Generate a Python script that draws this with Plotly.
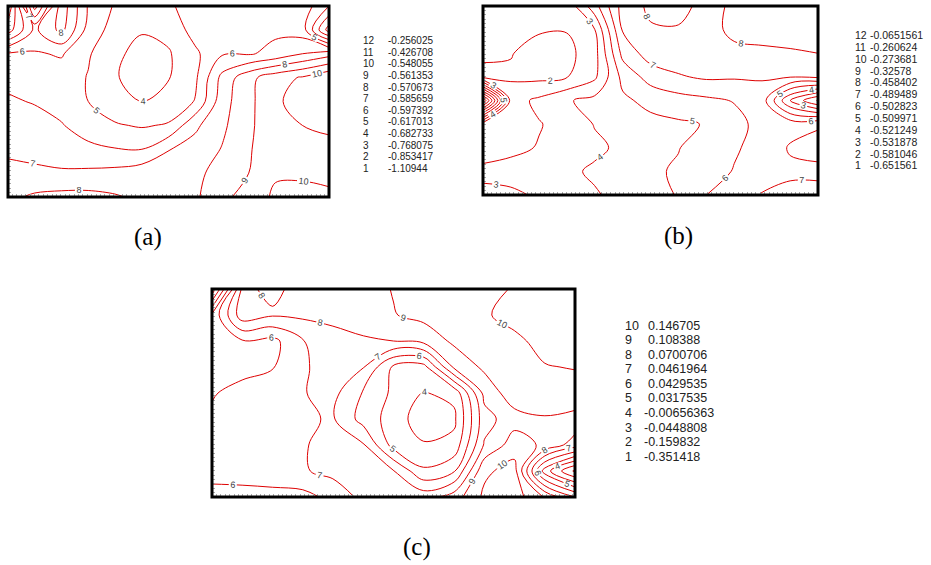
import plotly.graph_objects as go

W, H = 931, 565

# ---- contour legend tables (level index -> value) ----
levels_a = [-1.10944, -0.853417, -0.768075, -0.682733, -0.617013, -0.597392,
            -0.585659, -0.570673, -0.561353, -0.548055, -0.426708, -0.256025]
levels_b = [-0.651561, -0.581046, -0.531878, -0.521249, -0.509971, -0.502823,
            -0.489489, -0.458402, -0.32578, -0.273681, -0.260624, -0.0651561]
levels_c = [-0.351418, -0.159832, -0.0448808, -0.00656363, 0.0317535,
            0.0429535, 0.0461964, 0.0700706, 0.108388, 0.146705]

# ---- grid positions (fraction of panel width / height) ----
gx = [0, 0.083, 0.167, 0.25, 0.333, 0.417, 0.5, 0.583, 0.667, 0.75, 0.833, 0.917, 1]
gy = [0, 0.125, 0.25, 0.375, 0.5, 0.625, 0.75, 0.875, 1]

# ---- fields, expressed in contour-level index units (rows bottom -> top) ----
z_a = [
    [7.8, 8.15, 8.3, 8.3, 8.1, 7.8, 7.6, 7.85, 8.7, 9.5, 10.15, 10.3, 10.3],
    [7.3, 7.25, 7.15, 7.2, 7.3, 7.6, 7.7, 7.75, 8.4, 9.0, 9.9, 9.85, 9.6],
    [6.8, 6.6, 6.4, 6.2, 6.05, 6.0, 6.95, 7.4, 8.05, 8.9, 9.7, 9.9, 9.7],
    [6.4, 6.3, 6.05, 5.6, 5.1, 4.9, 5.1, 6.8, 7.8, 8.8, 9.7, 10.0, 10.2],
    [6.1, 5.95, 5.7, 5.0, 4.4, 4.0, 4.3, 5.05, 7.6, 8.75, 9.8, 10.5, 10.8],
    [5.8, 5.6, 5.5, 4.95, 4.1, 3.5, 3.95, 4.8, 7.3, 8.7, 9.6, 10.1, 10.9],
    [5.9, 5.9, 6.1, 5.1, 4.25, 3.6, 3.9, 4.8, 5.9, 5.9, 6.3, 7.0, 7.6],
    [9.5, 6.8, 8.3, 5.6, 4.6, 4.1, 4.3, 5.4, 5.6, 5.5, 5.8, 5.5, 1.5],
    [11.0, 3.5, 8.6, 5.9, 4.9, 4.4, 4.9, 5.3, 5.6, 5.8, 5.9, 5.6, 4.0],
]
z_b = [
    [2.8, 2.85, 3.1, 3.5, 3.9, 4.3, 4.7, 5.05, 6.0, 6.6, 7.05, 7.3, 7.3],
    [3.2, 3.3, 3.5, 3.8, 4.15, 4.5, 4.8, 5.15, 5.6, 6.05, 6.6, 6.8, 6.8],
    [2.6, 2.8, 3.05, 3.4, 3.8, 4.2, 4.6, 4.95, 5.6, 5.9, 6.3, 7.1, 7.3],
    [2.4, 2.7, 2.95, 3.3, 4.05, 4.4, 4.7, 4.85, 5.05, 5.7, 6.3, 6.6, 6.9],
    [12.0, 2.6, 3.2, 3.9, 4.3, 4.8, 5.3, 5.6, 5.8, 6.05, 6.5, 3.0, 0.9],
    [1.7, 1.85, 1.75, 1.95, 2.8, 5.3, 6.4, 6.9, 7.15, 7.1, 7.1, 7.05, 7.2],
    [2.2, 2.05, 1.6, 1.7, 2.6, 6.3, 7.5, 7.6, 7.6, 7.8, 7.85, 7.9, 8.0],
    [2.5, 2.3, 2.1, 2.05, 2.95, 7.1, 7.9, 7.95, 7.7, 8.2, 8.3, 8.4, 8.5],
    [2.6, 2.5, 2.4, 2.3, 4.6, 7.4, 8.2, 8.2, 7.8, 8.1, 8.3, 8.4, 8.5],
]
z_c = [
    [5.8, 5.75, 5.7, 5.65, 6.3, 7.3, 7.5, 7.6, 8.5, 10.2, 10.5, 8.9, 7.0],
    [6.2, 6.3, 6.5, 6.9, 7.3, 7.4, 7.05, 5.15, 5.9, 9.8, 10.4, 4.5, 1.8],
    [6.4, 6.5, 6.7, 6.95, 7.2, 7.1, 4.6, 4.1, 4.3, 8.1, 9.5, 8.8, 7.5],
    [6.1, 6.2, 6.5, 6.85, 7.1, 5.6, 4.55, 3.4, 3.8, 7.6, 8.6, 8.9, 8.7],
    [5.95, 6.2, 6.4, 6.95, 7.3, 5.9, 4.8, 3.95, 4.25, 8.3, 9.6, 9.7, 9.6],
    [5.7, 5.8, 5.95, 6.85, 7.5, 7.05, 4.8, 4.6, 8.2, 9.2, 9.6, 9.95, 10.05],
    [5.8, 5.9, 5.7, 6.95, 7.6, 7.9, 8.0, 8.3, 9.2, 9.5, 9.8, 10.3, 10.4],
    [5.2, 8.6, 8.1, 8.2, 8.3, 8.4, 8.95, 9.3, 9.6, 9.9, 10.3, 10.5, 10.5],
    [1.2, 8.2, 7.8, 8.3, 8.4, 8.6, 9.05, 9.4, 9.6, 9.8, 10.05, 10.4, 10.5],
]

# ---- panel boxes in pixels (left, right, top, bottom) ----
boxes = [(8, 329, 6, 197), (483, 818, 6, 195), (212, 575, 289, 497)]

RED = "#dd0000"
fig = go.Figure()

panels = [(z_a, levels_a), (z_b, levels_b), (z_c, levels_c)]
for i, (z, lev) in enumerate(panels):
    n = i + 1
    xa = "x" if n == 1 else f"x{n}"
    ya = "y" if n == 1 else f"y{n}"
    fig.add_trace(go.Contour(
        x=gx, y=gy, z=z, xaxis=xa, yaxis=ya,
        contours=dict(coloring="none", start=1, end=len(lev), size=1,
                      showlabels=True,
                      labelfont=dict(size=9, color="#444", family="Liberation Sans")),
        line=dict(color=RED, width=1, smoothing=1.0),
        showscale=False, hoverinfo="skip"))

layout = dict(width=W, height=H, margin=dict(l=0, r=0, t=0, b=0),
              paper_bgcolor="white", plot_bgcolor="white", showlegend=False)
shapes = []
for i, (x0, x1, y0, y1) in enumerate(boxes):
    n = i + 1
    kx = "xaxis" if n == 1 else f"xaxis{n}"
    ky = "yaxis" if n == 1 else f"yaxis{n}"
    yan = "y" if n == 1 else f"y{n}"
    xan = "x" if n == 1 else f"x{n}"
    layout[kx] = dict(domain=[x0 / W, x1 / W], range=[0, 1], showgrid=False,
                      zeroline=False, showticklabels=False, ticks="inside",
                      ticklen=3, tickcolor="#aaa", dtick=4.4 / (x1 - x0),
                      anchor=yan, fixedrange=True)
    layout[ky] = dict(domain=[1 - y1 / H, 1 - y0 / H], range=[0, 1], showgrid=False,
                      zeroline=False, showticklabels=False, ticks="inside",
                      ticklen=3, tickcolor="#aaa", dtick=4.4 / (y1 - y0),
                      anchor=xan, fixedrange=True)
    shapes.append(dict(type="rect", xref=f"{xan} domain", yref=f"{yan} domain",
                       x0=0, x1=1, y0=0, y1=1, line=dict(color="black", width=3)))
layout["shapes"] = shapes

# ---- legend tables ----
# (index x, value x, top row y, row step, font size, levels, hang minus sign)
tables = [(361, 386, 40.7, 11.6, 10, levels_a, False),
          (853, 868, 35.0, 11.85, 10.5, levels_b, False),
          (623, 646, 325.7, 14.55, 12.5, levels_c, True)]
ann = []
for ix, vx, ytop, step, fs, lev, hang in tables:
    nlev = len(lev)
    for k in range(nlev, 0, -1):
        py = ytop + (nlev - k) * step
        val = lev[k - 1]
        shift = 0.333 * fs if (hang and val < 0) else 0
        ann.append(dict(x=ix / W, y=1 - py / H, xref="paper", yref="paper",
                        text=str(k), showarrow=False, xanchor="left", yanchor="middle",
                        font=dict(size=fs, color="#222", family="Liberation Sans")))
        ann.append(dict(x=(vx - shift) / W, y=1 - py / H, xref="paper", yref="paper",
                        text=str(val), showarrow=False, xanchor="left", yanchor="middle",
                        font=dict(size=fs, color="#222", family="Liberation Sans")))

captions = [("(a)", 148, 237), ("(b)", 678, 236.5), ("(c)", 416.5, 546.5)]
for t, cx, cy in captions:
    ann.append(dict(x=cx / W, y=1 - cy / H, xref="paper", yref="paper", text=t,
                    showarrow=False, xanchor="center", yanchor="middle",
                    font=dict(size=25, color="black", family="Liberation Serif")))
layout["annotations"] = ann

fig.update_layout(**layout)
fig.write_html("out.html")
